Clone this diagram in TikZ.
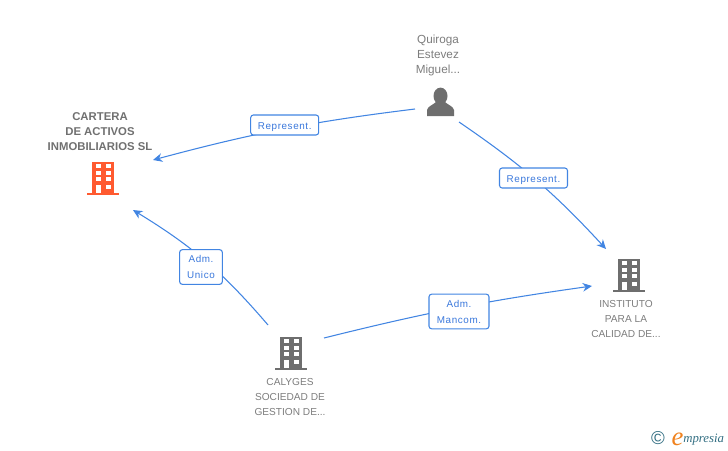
\documentclass[tikz,border=0pt]{standalone}
\usepackage{fontspec}
\setmainfont{Liberation Sans}
\newfontfamily\labelfont[LetterSpace=6]{Liberation Sans}
\newfontfamily\logofont{Liberation Serif}
\usetikzlibrary{positioning,shapes,arrows.meta,calc}
\definecolor{linkblue}{RGB}{66,133,226}
\definecolor{textblue}{RGB}{58,120,220}
\definecolor{nodegray}{RGB}{125,125,125}
\definecolor{icongray}{RGB}{110,110,110}
\definecolor{iconorange}{RGB}{255,90,48}
\definecolor{logoteal}{RGB}{50,110,130}
\definecolor{logoorange}{RGB}{240,130,30}
\tikzset{
  linkline/.style={draw=linkblue, line width=0.8pt, -{Stealth[length=7pt,width=6.5pt]}},
  linkbox/.style={draw=linkblue, fill=white, line width=0.8pt, rounded corners=2pt, inner sep=0pt,
    align=center, text=textblue, font=\labelfont\fontsize{7.4}{12}\selectfont},
  nodetext/.style={align=center, text=nodegray, inner sep=0pt, font=\fontsize{7.6}{11.25}\selectfont},
  boldtext/.style={align=center, text=nodegray!90!black, inner sep=0pt, font=\bfseries\fontsize{8.5}{11.25}\selectfont},
  pics/building/.style={code={
    \fill[#1] (-11,-33) rectangle (11,-2);
    \fill[#1] (-16,-2.5) rectangle (16,0);
    \foreach \yy in {-29.5,-23,-16.5} {
      \fill[white] (-7.3,\yy-1.5) rectangle (-2.3,\yy+2.8);
      \fill[white] (2.7,\yy-1.5) rectangle (7.7,\yy+2.8);
    }
    \fill[white] (-7.3,-10) rectangle (-2.3,-2.5);
    \fill[white] (2.7,-10) rectangle (7.7,-5.7);
  }}
}
\begin{document}
\begin{tikzpicture}[x=0.75pt, y=-0.75pt]
\useasboundingbox (0,0) rectangle (728,450);

% Company names and person name
\node[boldtext] (cartera) at (100,132) {CARTERA\\DE ACTIVOS\\INMOBILIARIOS SL};
\node[nodetext, font=\fontsize{8.8}{11.25}\selectfont] (quiroga) at (438,55) {Quiroga\\Estevez\\Miguel...};
\node[nodetext] (instituto) at (626,319) {INSTITUTO\\PARA LA\\CALIDAD DE...};
\node[nodetext] (calyges) at (290,397) {CALYGES\\SOCIEDAD DE\\GESTION DE...};

% Icons, origin at middle of the base
\pic at (103,195) {building=iconorange};
\pic at (629,292) {building=icongray};
\pic at (291,370) {building=icongray};

% Person icon
\fill[icongray] (440.5,96) ellipse (7 and 8.4);
\fill[icongray] (427,116) -- (427,110) .. controls (428,106) and (433,105) .. (436,102)
  -- (445,102) .. controls (448,105) and (453,106) .. (454,110) -- (454,116) -- cycle;

% Free ends of the connectors
\coordinate (quirogaout) at (415,109);
\coordinate (quirogaout2) at (459,122);
\coordinate (carteraend) at (153,160);
\coordinate (carteraend2) at (133,210);
\coordinate (institutoend) at (606,249);
\coordinate (institutoend2) at (592,286);
\coordinate (calygesout) at (268,325);
\coordinate (calygesout2) at (324,338);

% Connectors
\draw[linkline] (quirogaout) to[bend right=4] (carteraend);
\draw[linkline] (quirogaout2) to[bend left=6.5] (institutoend);
\draw[linkline] (calygesout2) to[bend left=3] (institutoend2);
\draw[linkline] (calygesout) to[bend right=9] (carteraend2);

% Boxes on the connectors
\node[linkbox, minimum width=51pt, minimum height=15pt, text height=6pt, text depth=0pt] (represent1) at (284.7,125) {Represent.};
\node[linkbox, minimum width=51pt, minimum height=15pt, text height=6pt, text depth=0pt] (represent2) at (533.5,178) {Represent.};
\node[linkbox, minimum width=32pt, minimum height=26pt] (admunico) at (201,267) {Adm.\\Unico};
\node[linkbox, minimum width=45pt, minimum height=26pt] (admmancom) at (459,311.5) {Adm.\\Mancom.};

% Logo
\node[text=logoteal, inner sep=0pt, font=\fontsize{14}{14}\selectfont] (copyright) at (658,438.5) {©};
\node[text=logoorange, inner sep=0pt, font=\logofont\itshape\fontsize{20}{20}\selectfont] (logoe) at (677.5,439) {e};
\node[text=logoteal, inner sep=0pt, anchor=west, font=\logofont\itshape\fontsize{9.6}{9.6}\selectfont] (logoname) at (683,440) {mpresia};
\end{tikzpicture}
\end{document}
